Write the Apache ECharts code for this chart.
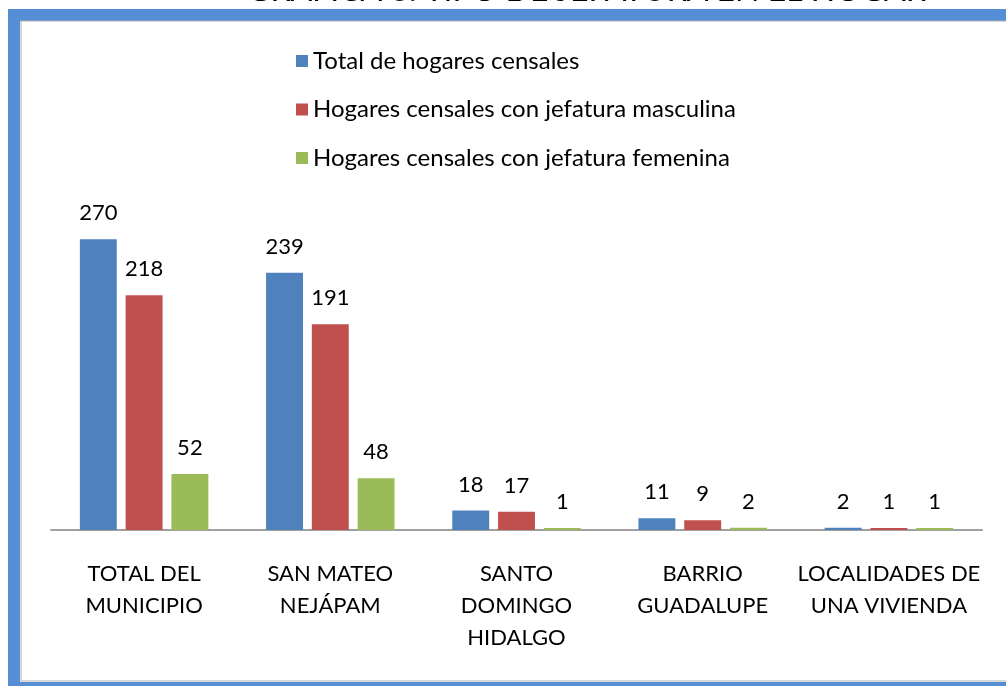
<!DOCTYPE html>
<html>
<head>
<meta charset="utf-8">
<script src="https://cdn.jsdelivr.net/npm/echarts@6/dist/echarts.min.js"></script>
<style>
  html, body { margin: 0; padding: 0; background: #fff; }
  #chart { width: 1006px; height: 686px; }
</style>
</head>
<body>
<div id="chart"></div>
<script>
const categories = ['TOTAL DEL\nMUNICIPIO', 'SAN MATEO\nNEJÁPAM', 'SANTO\nDOMINGO\nHIDALGO', 'BARRIO\nGUADALUPE', 'LOCALIDADES DE\nUNA VIVIENDA']
const totalHogares = [270, 239, 18, 11, 2]
const jefaturaMasculina = [218, 191, 17, 9, 1]
const jefaturaFemenina = [52, 48, 1, 2, 1]
const seriesNames = ['Total de hogares censales', 'Hogares censales con jefatura masculina', 'Hogares censales con jefatura femenina']

const font = 'Lato, "Open Sans", sans-serif'
const chart = echarts.init(document.getElementById('chart'))

const barLabel = {
  show: true,
  position: 'top',
  distance: 15,
  color: '#000',
  fontSize: 22,
  fontFamily: font
}

const option = {
  animation: false,
  graphic: [
    // title, mostly cut off by the top of the picture
    {
      type: 'text', x: 247, y: -25,
      style: { text: 'GRÁFICA 3. TIPO DE JEFATURA EN EL HOGAR', fill: '#000', fontSize: 32, fontFamily: font, verticalAlign: 'top' }
    },
    { type: 'rect', shape: { x: 8, y: 9, width: 1000, height: 12 }, style: { fill: '#558ED5' } },
    { type: 'rect', shape: { x: 8, y: 9, width: 12, height: 680 }, style: { fill: '#558ED5' } },
    { type: 'rect', shape: { x: 8, y: 682, width: 1000, height: 10 }, style: { fill: '#558ED5' } },
    { type: 'rect', shape: { x: 21, y: 21, width: 990, height: 660 }, style: { fill: 'none', stroke: '#B0B0B0', lineWidth: 1 } }
  ],
  legend: {
    orient: 'vertical',
    left: 291,
    top: 44,
    itemWidth: 12,
    itemHeight: 12,
    itemGap: 24.5,
    icon: 'rect',
    textStyle: { color: '#000', fontSize: 24, fontFamily: font },
    data: seriesNames
  },
  grid: { left: 51, right: 24, top: 207, bottom: 156 },
  xAxis: {
    type: 'category',
    data: categories,
    axisLine: { lineStyle: { color: '#A0A0A0', width: 2 } },
    axisTick: { show: false },
    axisLabel: { color: '#000', fontSize: 22, fontFamily: font, lineHeight: 32, margin: 28, interval: 0 }
  },
  yAxis: {
    type: 'value',
    min: 0,
    max: 300,
    show: false,
    splitLine: { show: false }
  },
  series: [
    { name: seriesNames[0], type: 'bar', data: totalHogares, itemStyle: { color: '#4F81BD' }, barGap: '24%', barCategoryGap: '31%', barMinHeight: 2, label: barLabel },
    { name: seriesNames[1], type: 'bar', data: jefaturaMasculina, itemStyle: { color: '#C0504D' }, barMinHeight: 2, label: barLabel },
    { name: seriesNames[2], type: 'bar', data: jefaturaFemenina, itemStyle: { color: '#9BBB59' }, barMinHeight: 2, label: barLabel }
  ]
}
chart.setOption(option)
</script>
</body>
</html>
